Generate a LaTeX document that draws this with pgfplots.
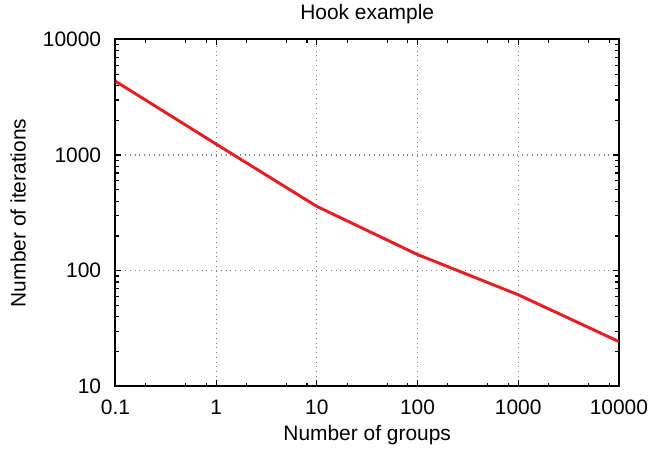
\documentclass[border=0pt]{standalone}
\usepackage{fontspec}
\setmainfont{Liberation Sans}
\usepackage{pgfplots}
\pgfplotsset{compat=1.18}
\definecolor{linered}{RGB}{228,32,38}
\begin{document}
\fontsize{10.5}{12.6}\selectfont
\begin{tikzpicture}
\begin{axis}[
  xmode=log, ymode=log,
  width=252.5pt, height=174pt, scale only axis,
  xmin=0.1, xmax=10000, ymin=10, ymax=10000,
  xtick={0.1,1,10,100,1000,10000},
  xticklabels={0.1,1,10,100,1000,10000},
  ytick={10,100,1000,10000},
  yticklabels={10,100,1000,10000},
  minor xtick={0.2,0.5,0.8,2,5,8,20,50,80,200,500,800,2000,5000,8000},
  minor ytick={20,30,40,50,60,70,80,90,200,300,400,500,600,700,800,900,2000,3000,4000,5000,6000,7000,8000,9000},
  tick align=inside,
  major tick length=3pt, minor tick length=1.8pt,
  tick style={black, line width=0.6pt},
  axis line style={black, line width=1pt},
  xmajorgrids, ymajorgrids,
  major grid style={gray, dotted, line width=0.6pt},
  title={Hook example},
  xlabel={Number of groups},
  ylabel={Number of iterations},
  title style={inner ysep=2pt, yshift=-0.2pt},
  xticklabel style={inner xsep=1pt, yshift=-3pt},
  yticklabel style={xshift=-3.5pt},
  xlabel style={inner ysep=3pt, yshift=1.3pt},
  ylabel style={inner ysep=5.3pt, yshift=-0.5pt},
  /pgf/number format/assume math mode=true,
  clip=true,
]
\addplot[linered, line width=1.5pt] coordinates {
  (0.1,4350) (1,1245) (10,360) (100,138) (1000,62) (10000,24.4)
};
\end{axis}
\end{tikzpicture}
\end{document}
